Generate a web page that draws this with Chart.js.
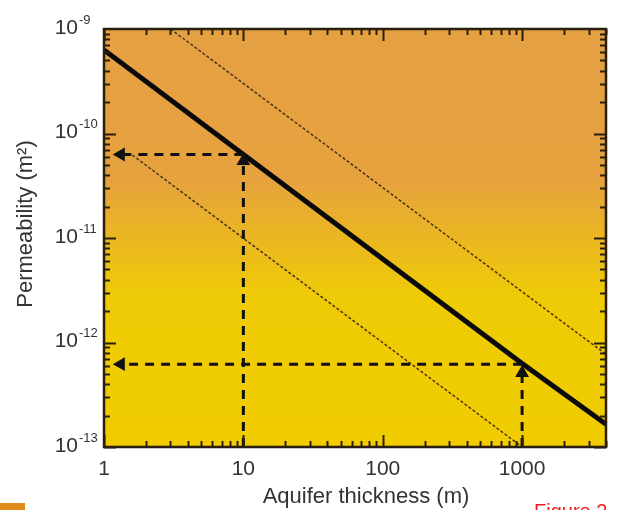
<!DOCTYPE html>
<html lang="en">
  <head>
    <meta charset="UTF-8" />
    <title>Permeability vs aquifer thickness</title>
    <script src="https://cdn.jsdelivr.net/npm/chart.js"></script>
    <style>
      html, body { margin: 0; padding: 0; background: #fff; overflow: hidden; }
      #wrap { position: relative; width: 618px; height: 510px; }
    </style>
  </head>
  <body>
    <div id="wrap"><canvas id="myChart"></canvas></div>
    <script>
      // tick labels
      const xTickLabels = [1, 10, 100, 1000];
      const yTickExponents = [-9, -10, -11, -12, -13];

      // thick black line (critical permeability)
      const thickX = [1, 10, 1000, 4000];
      const thickY = [6.3e-10, 6.3e-11, 6.3e-13, 1.65e-13];
      // thin dotted bounds
      const upperX = [3, 4000];
      const upperY = [1e-9, 7.7e-13];
      const lowerX = [1.6, 1000];
      const lowerY = [6.2e-11, 1e-13];
      // dashed arrows (tail, head)
      const arrowAX = [10, 1.32];
      const arrowAY = [6.3e-11, 6.3e-11];
      const arrowBX = [10, 10];
      const arrowBY = [1e-13, 5.45e-11];
      const arrowCX = [1000, 1000];
      const arrowCY = [1e-13, 5.1e-13];
      const arrowDX = [1000, 1.32];
      const arrowDY = [6.2e-13, 6.2e-13];

      const pts = (xs, ys) => xs.map((x, i) => ({ x: x, y: ys[i] }));
      const FONT = "'Liberation Sans', Arial, sans-serif";
      const TEXT = "#333";

      function lineSet(xs, ys, width, dash, color) {
        return {
          data: pts(xs, ys),
          showLine: true,
          borderColor: color,
          borderWidth: width,
          borderDash: dash,
          pointRadius: 0,
        };
      }
      function arrowSet(xs, ys, rot) {
        return {
          data: pts(xs, ys),
          showLine: true,
          borderColor: "#111",
          borderWidth: 3,
          borderDash: [9, 7],
          pointRadius: [0, 8],
          pointStyle: "triangle",
          rotation: [0, rot],
          pointBackgroundColor: "#111",
          pointBorderWidth: 0,
        };
      }

      const decoration = {
        id: "decoration",
        beforeDraw(chart) {
          const { ctx, chartArea: a } = chart;
          const g = ctx.createLinearGradient(0, a.top, 0, a.bottom);
          g.addColorStop(0, "#e5a043");
          g.addColorStop(0.36, "#e6a23e");
          g.addColorStop(0.64, "#efcb06");
          g.addColorStop(1, "#f0cc00");
          ctx.save();
          ctx.fillStyle = g;
          ctx.fillRect(a.left, a.top, a.right - a.left, a.bottom - a.top);
          ctx.restore();
        },
        afterDatasetsDraw(chart) {
          const { ctx, chartArea: a, scales } = chart;
          const xs = scales.x, ys = scales.y;
          ctx.save();
          ctx.strokeStyle = "#2a1e0c";
          ctx.lineWidth = 2;
          // inward ticks, x
          for (let d = 1; d <= 1000; d *= 10) {
            for (let m = 1; m <= 9; m++) {
              const v = m * d;
              if (v > 4000) break;
              const px = Math.round(xs.getPixelForValue(v)) + 0.5;
              const len = m === 1 ? 12 : 6;
              ctx.beginPath();
              ctx.moveTo(px, a.bottom); ctx.lineTo(px, a.bottom - len);
              ctx.moveTo(px, a.top); ctx.lineTo(px, a.top + len);
              ctx.stroke();
            }
          }
          // inward ticks, y
          for (let e = -13; e <= -10; e++) {
            for (let m = 1; m <= 9; m++) {
              const v = m * Math.pow(10, e);
              const py = Math.round(ys.getPixelForValue(v)) + 0.5;
              const len = m === 1 ? 12 : 6;
              ctx.beginPath();
              ctx.moveTo(a.left, py); ctx.lineTo(a.left + len, py);
              ctx.moveTo(a.right, py); ctx.lineTo(a.right - len, py);
              ctx.stroke();
            }
          }
          // frame
          ctx.lineWidth = 2.5;
          ctx.strokeRect(a.left, a.top, a.right - a.left, a.bottom - a.top);
          ctx.restore();
        },
        afterDraw(chart) {
          const { ctx, chartArea: a, scales } = chart;
          const xs = scales.x, ys = scales.y;
          ctx.save();
          ctx.fillStyle = TEXT;
          // x tick labels
          ctx.font = "21px " + FONT;
          ctx.textAlign = "center";
          ctx.textBaseline = "middle";
          xTickLabels.forEach((v) => {
            ctx.fillText(String(v), xs.getPixelForValue(v), 469);
          });
          // y tick labels 10^e
          yTickExponents.forEach((e) => {
            const py = ys.getPixelForValue(Math.pow(10, e));
            ctx.font = "21px " + FONT;
            ctx.textAlign = "right";
            ctx.fillText("10", 78, py - 1);
            ctx.font = "13px " + FONT;
            ctx.textAlign = "left";
            ctx.fillText(String(e), 79, py - 9);
          });
          // axis titles
          ctx.font = "22px " + FONT;
          ctx.textAlign = "center";
          ctx.fillText("Aquifer thickness (m)", 366, 497);
          ctx.save();
          ctx.translate(26, 224);
          ctx.rotate(-Math.PI / 2);
          ctx.fillText("Permeability (m\u00b2)", 0, 0);
          ctx.restore();
          // page remnants
          ctx.fillStyle = "#e08a1e";
          ctx.fillRect(0, 503, 25, 7);
          ctx.fillStyle = "#ee1c1c";
          ctx.font = "20px " + FONT;
          ctx.textAlign = "left";
          ctx.textBaseline = "top";
          ctx.fillText("Figure 2", 534, 502);
          ctx.restore();
        },
      };

      new Chart(document.getElementById("myChart"), {
        type: "scatter",
        data: {
          datasets: [
            lineSet(upperX, upperY, 1.5, [3, 2], "#4a3210"),
            lineSet(lowerX, lowerY, 1.5, [3, 2], "#4a3210"),
            arrowSet(arrowAX, arrowAY, -90),
            arrowSet(arrowBX, arrowBY, 0),
            arrowSet(arrowCX, arrowCY, 0),
            arrowSet(arrowDX, arrowDY, -90),
            lineSet(thickX, thickY, 5, [], "#0a0a0a"),
          ],
        },
        options: {
          responsive: true,
          maintainAspectRatio: false,
          animation: false,
          layout: { padding: { top: 29, right: 12, left: 0, bottom: 0 } },
          plugins: { legend: { display: false }, tooltip: { enabled: false } },
          scales: {
            x: {
              type: "logarithmic",
              min: 1,
              max: 4000,
              grid: { display: false },
              border: { display: false },
              ticks: { display: false },
              afterFit: (s) => { s.height = 63; },
            },
            y: {
              type: "logarithmic",
              min: 1e-13,
              max: 1e-9,
              grid: { display: false },
              border: { display: false },
              ticks: { display: false },
              afterFit: (s) => { s.width = 104; },
            },
          },
        },
        plugins: [decoration],
      });
    </script>
  </body>
</html>
